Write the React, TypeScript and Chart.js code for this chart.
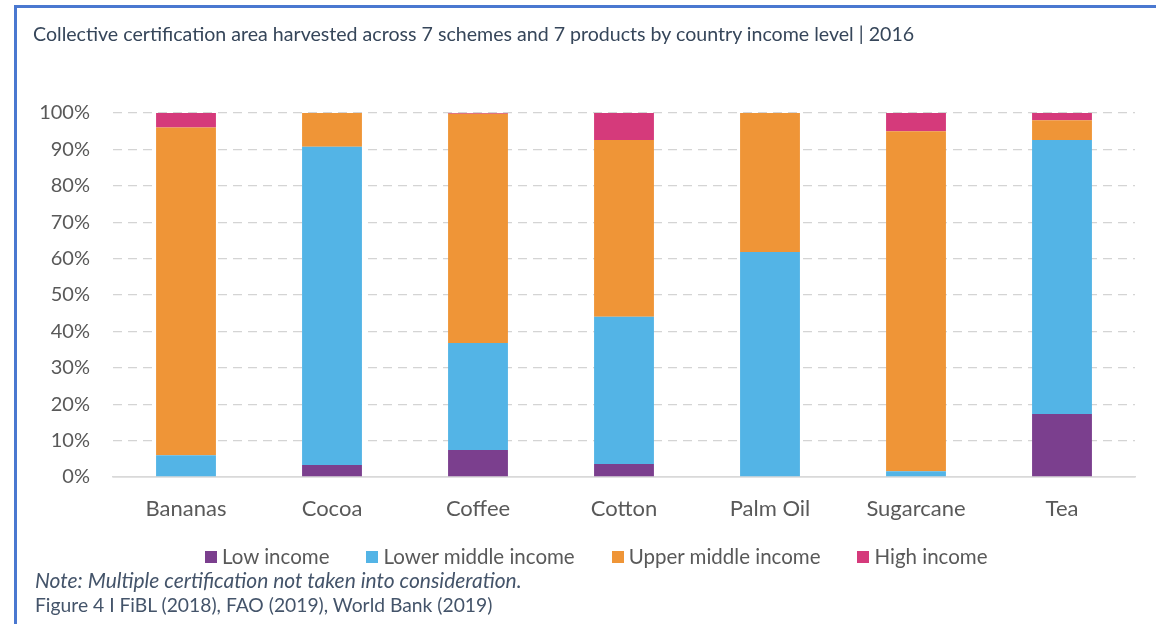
import { useEffect, useRef } from "react";
import { Chart, registerables } from "chart.js";
Chart.register(...registerables);

const categories = ["Bananas", "Cocoa", "Coffee", "Cotton", "Palm Oil", "Sugarcane", "Tea"];
const lowIncome = [0, 3.3, 7.4, 3.6, 0, 0, 17.3];
const lowerMiddleIncome = [6, 87.4, 29.4, 40.4, 61.8, 1.6, 75.3];
const upperMiddleIncome = [90, 9.3, 63.0, 48.6, 38.2, 93.4, 5.4];
const highIncome = [4, 0, 0.2, 7.4, 0, 5, 2];
const seriesNames = ["Low income", "Lower middle income", "Upper middle income", "High income"];
const seriesColors = ["#7b3f8e", "#53b4e6", "#ef9537", "#d53a7b"];

const FONT = "Lato, 'Open Sans', sans-serif";

export default function App() {
  const ref = useRef<HTMLCanvasElement>(null);
  useEffect(() => {
    document.body.style.margin = "0";
    const values = [lowIncome, lowerMiddleIncome, upperMiddleIncome, highIncome];
    const chart = new Chart(ref.current!, {
      type: "bar",
      data: {
        labels: categories,
        datasets: values.map((d, i) => ({
          label: seriesNames[i],
          data: d,
          backgroundColor: seriesColors[i],
          borderWidth: 0,
          categoryPercentage: 0.41,
          barPercentage: 1,
        })),
      },
      options: {
        responsive: false,
        animation: false,
        layout: { padding: { top: 113, right: 21, bottom: 92, left: 0 } },
        plugins: {
          legend: { display: false },
          tooltip: { enabled: false },
        },
        scales: {
          x: {
            stacked: true,
            grid: { display: false },
            border: { display: true, color: "#d9d9d9", width: 1.5 },
            ticks: { color: "#595959", font: { family: FONT, size: 22 }, padding: 11 },
            afterFit: (s: any) => { s.height = 55; },
          },
          y: {
            stacked: true,
            min: 0,
            max: 100,
            ticks: {
              stepSize: 10,
              color: "#595959",
              font: { family: FONT, size: 20 },
              padding: 23,
              callback: (v: any) => v + "%",
            },
            grid: {
              color: (c: any) => (c.tick && c.tick.value === 0 ? "#d9d9d9" : "#d4d4d4"),
              lineWidth: (c: any) => (c.tick && c.tick.value === 0 ? 1.5 : 1.2),
              drawTicks: false,
            },
            border: {
              display: false,
              dash: (c: any) => (c.tick && c.tick.value === 0 ? [] : [9, 6]),
            },
            afterFit: (s: any) => { s.width = 113; },
          },
        },
      },
    });
    return () => chart.destroy();
  }, []);

  return (
    <div style={{ position: "relative", width: 1156, height: 624, overflow: "hidden", background: "#fff", fontFamily: FONT }}>
      <div style={{ position: "absolute", left: 14, top: 5, right: -10, bottom: -10, borderLeft: "3px solid #4a78d0", borderTop: "3px solid #4a78d0" }} />
      <canvas ref={ref} width={1156} height={624} style={{ position: "absolute", left: 0, top: 0 }} />
      <div style={{ position: "absolute", left: 33, top: 23, fontSize: 19.6, lineHeight: "22px", color: "#36465a", whiteSpace: "nowrap" }}>
        Collective certification area harvested across 7 schemes and 7 products by country income level | 2016
      </div>
      <div style={{ position: "absolute", left: 205, top: 543, height: 26, display: "flex", alignItems: "center", gap: 37, whiteSpace: "nowrap" }}>
        {seriesNames.map((n, i) => (
          <div key={n} style={{ display: "flex", alignItems: "center" }}>
            <span style={{ display: "inline-block", width: 12, height: 12, background: seriesColors[i], marginRight: 5, marginTop: 1 }} />
            <span style={{ fontSize: 20.5, lineHeight: "26px", color: "#595959" }}>{n}</span>
          </div>
        ))}
      </div>
      <div style={{ position: "absolute", left: 35, top: 568, fontSize: 21, lineHeight: "24px", color: "#44546a", fontStyle: "italic", whiteSpace: "nowrap" }}>
        Note: Multiple certification not taken into consideration.
      </div>
      <div style={{ position: "absolute", left: 35, top: 594, fontSize: 19.3, lineHeight: "22px", color: "#44546a", whiteSpace: "nowrap" }}>
        Figure 4 I FiBL (2018), FAO (2019), World Bank (2019)
      </div>
    </div>
  );
}
